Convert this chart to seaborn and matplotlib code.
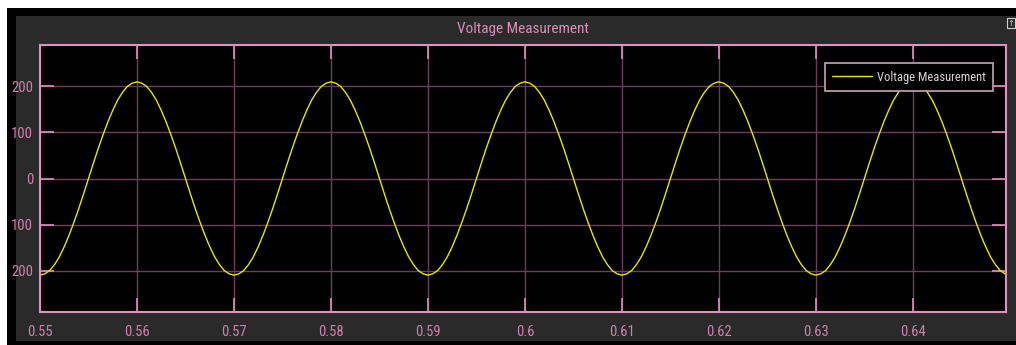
import numpy as np
import pandas as pd
import matplotlib
matplotlib.use("Agg")
import matplotlib.pyplot as plt
from matplotlib import font_manager
from matplotlib.patches import Rectangle
from matplotlib.ticker import FixedLocator, FixedFormatter
import seaborn as sns

# Scope trace: one sample every 0.5 ms from 0.550 s to 0.650 s
sample_start = 0.550
sample_step = 0.0005
voltage = [
    -210, -207, -200, -187, -170, -148, -123, -95, -65, -33,
    0, 33, 65, 95, 123, 148, 170, 187, 200, 207,
    210, 207, 200, 187, 170, 148, 123, 95, 65, 33,
    0, -33, -65, -95, -123, -148, -170, -187, -200, -207,
    -210, -207, -200, -187, -170, -148, -123, -95, -65, -33,
    0, 33, 65, 95, 123, 148, 170, 187, 200, 207,
    210, 207, 200, 187, 170, 148, 123, 95, 65, 33,
    0, -33, -65, -95, -123, -148, -170, -187, -200, -207,
    -210, -207, -200, -187, -170, -148, -123, -95, -65, -33,
    0, 33, 65, 95, 123, 148, 170, 187, 200, 207,
    210, 207, 200, 187, 170, 148, 123, 95, 65, 33,
    0, -33, -65, -95, -123, -148, -170, -187, -200, -207,
    -210, -207, -200, -187, -170, -148, -123, -95, -65, -33,
    0, 33, 65, 95, 123, 148, 170, 187, 200, 207,
    210, 207, 200, 187, 170, 148, 123, 95, 65, 33,
    0, -33, -65, -95, -123, -148, -170, -187, -200, -207,
    -210, -207, -200, -187, -170, -148, -123, -95, -65, -33,
    0, 33, 65, 95, 123, 148, 170, 187, 200, 207,
    210, 207, 200, 187, 170, 148, 123, 95, 65, 33,
    0, -33, -65, -95, -123, -148, -170, -187, -200, -207,
    -210,
]
x_ticks = [0.55, 0.56, 0.57, 0.58, 0.59, 0.60, 0.61, 0.62, 0.63, 0.64]
x_tick_labels = ["0.55", "0.56", "0.57", "0.58", "0.59", "0.6", "0.61", "0.62", "0.63", "0.64"]
y_ticks = [200, 100, 0, -100, -200]
y_tick_labels = ["200", "100", "0", "100", "200"]
title = "Voltage Measurement"
series_name = "Voltage Measurement"

time = np.round(sample_start + sample_step * np.arange(len(voltage)), 5)
df = pd.DataFrame({"Time": time, "Voltage": voltage})

sns.set_theme(style="dark")

# prefer a narrow sans face, like the scope's own UI font
available = {f.name for f in font_manager.fontManager.ttflist}
narrow_candidates = ["Liberation Sans Narrow", "Arial Narrow", "Roboto Condensed",
                     "PT Sans Narrow", "Archivo Narrow", "Fira Sans Condensed",
                     "IBM Plex Sans Condensed"]
families = [f for f in narrow_candidates if f in available][:1] + ["Liberation Sans", "DejaVu Sans"]
plt.rcParams["font.family"] = families

W, H = 1016, 345
fig = plt.figure(figsize=(W / 100, H / 100), dpi=100)
fig.patch.set_facecolor("white")

def fig_rect(x0, y0, x1, y1, **kw):
    # pixel box (top-left origin) -> figure-fraction rectangle
    fig.patches.append(Rectangle((x0 / W, 1 - y1 / H), (x1 - x0) / W, (y1 - y0) / H,
                                 transform=fig.transFigure, figure=fig, **kw))

fig_rect(7, 8, W, H, facecolor="black", edgecolor="none", zorder=-3)
fig_rect(16, 16, W, 341, facecolor="#2a2a2a", edgecolor="none", zorder=-2)
# small scope toolbar button
fig_rect(1007, 18, 1015, 28, facecolor="#2a2a2a", edgecolor="#d0d0d0", linewidth=0.8, zorder=-1)
fig.text(1011 / W, 1 - 23.5 / H, "↑", color="#d0d0d0", fontsize=6, ha="center", va="center",
         family=["DejaVu Sans"])

ax = fig.add_axes([40 / W, 1 - 312 / H, 966 / W, 267 / H])
ax.set_facecolor("black")

sns.lineplot(data=df, x="Time", y="Voltage", ax=ax, color="#e6e600", linewidth=1.0,
             label=series_name)

ax.set_xlim(0.55, 0.6496)
ax.set_ylim(-290, 290)

pink = "#e38fbd"
tick_text = "#cf82ab"
ax.xaxis.set_major_locator(FixedLocator(x_ticks))
ax.xaxis.set_major_formatter(FixedFormatter(x_tick_labels))
ax.yaxis.set_major_locator(FixedLocator(y_ticks))
ax.yaxis.set_major_formatter(FixedFormatter(y_tick_labels))
ax.tick_params(axis="both", which="major", direction="in", length=10, width=1.2,
               color=pink, labelcolor=tick_text, labelsize=10.5,
               top=True, right=True, bottom=True, left=True)
ax.tick_params(axis="x", pad=9)
ax.tick_params(axis="y", pad=5)
ax.grid(True, color="#6a4058", linewidth=1.0)
for side in ax.spines.values():
    side.set_visible(True)
    side.set_color(pink)
    side.set_linewidth(1.5)
ax.set_xlabel("")
ax.set_ylabel("")

fig.text(0.5 * (40 + 1006) / W, 1 - 29 / H, title, color="#d98fb8", fontsize=11,
         ha="center", va="center")

leg = ax.legend(loc="upper right", bbox_to_anchor=((993 - 40) / 966, (312 - 63) / 267),
                frameon=True, fancybox=False, fontsize=9, handlelength=3.2,
                handletextpad=0.35, borderpad=0.6, borderaxespad=0)
leg.get_frame().set_facecolor("black")
leg.get_frame().set_edgecolor("#c9a3ba")
leg.get_frame().set_linewidth(1.2)
leg.get_frame().set_alpha(1.0)
for txt in leg.get_texts():
    txt.set_color("#dcd2d8")

fig.savefig("out.png", dpi=100, facecolor=fig.get_facecolor())
